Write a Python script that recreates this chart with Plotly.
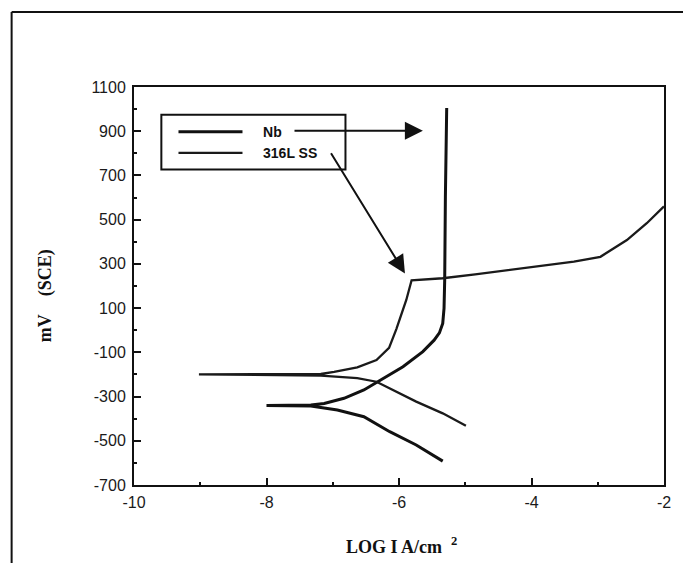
import plotly.graph_objects as go

# ---- data (LOG I in A/cm^2, potential in mV vs SCE) ----
nb_cath_x = [-8.00, -7.33, -6.93, -6.53, -6.14, -5.74, -5.34]
nb_cath_y = [-340, -343, -361, -391, -459, -519, -592]
nb_anod_x = [-8.00, -7.33, -7.13, -6.83, -6.53, -6.24, -5.94, -5.64, -5.47, -5.39, -5.34, -5.32, -5.31, -5.30, -5.28]
nb_anod_y = [-340, -338, -331, -308, -270, -218, -165, -97, -45, -12, 31, 100, 230, 600, 1005]

ss_cath_x = [-9.02, -7.18, -6.63, -6.34, -6.09, -5.74, -5.34, -4.99]
ss_cath_y = [-200, -205, -217, -233, -270, -323, -376, -432]
ss_anod_x = [-9.02, -7.18, -6.98, -6.63, -6.34, -6.15, -6.04, -5.89, -5.81, -5.34, -4.85, -4.10, -3.36, -2.96, -2.56, -2.26, -2.00]
ss_anod_y = [-200, -198, -188, -168, -135, -80, 5, 137, 226, 235, 253, 280, 310, 332, 408, 484, 560]

series_names = ["Nb", "316L SS"]
x_tickvals = [-10, -8, -6, -4, -2]
x_ticktext = ["-10", "-8", "-6", "-4", "-2"]
x_minor = [-9, -7, -5, -3]
y_tickvals = [1100, 900, 700, 500, 300, 100, -100, -300, -500, -700]
y_ticktext = [str(v) for v in y_tickvals]
y_minor = [1000, 800, 600, 400, 200, 0, -200, -400, -600]

# arrows (tail -> head) in data units
arrow_nb = dict(tail=(-7.60, 902), head=(-5.64, 902))
arrow_ss = dict(tail=(-7.04, 807), head=(-5.91, 257))

NBSP = "\u00a0"


def branch(cx, cy, ax, ay):
    # cathodic branch (reversed) followed by anodic branch, meeting at E_corr
    return list(reversed(cx)) + ax[1:], list(reversed(cy)) + ay[1:]


nb_x, nb_y = branch(nb_cath_x, nb_cath_y, nb_anod_x, nb_anod_y)
ss_x, ss_y = branch(ss_cath_x, ss_cath_y, ss_anod_x, ss_anod_y)

fig = go.Figure()
fig.add_trace(go.Scatter(x=nb_x, y=nb_y, mode="lines", name=NBSP * 4 + series_names[0],
                         line=dict(color="#111111", width=3)))
fig.add_trace(go.Scatter(x=ss_x, y=ss_y, mode="lines", name=NBSP * 4 + series_names[1],
                         line=dict(color="#1a1a1a", width=2.3)))

tickfont = dict(family="Liberation Sans", size=16, color="#1a1a1a")
axis_common = dict(showgrid=False, zeroline=False, showline=True, linecolor="#111111",
                   linewidth=2, mirror=True, ticks="inside", ticklen=7, tickwidth=2,
                   tickcolor="#111111", tickfont=tickfont)

fig.update_layout(
    width=683, height=563,
    margin=dict(l=134, r=12, t=87, b=78),
    paper_bgcolor="white", plot_bgcolor="white",
    showlegend=True,
    legend=dict(x=0.0745, y=0.927, xanchor="left", yanchor="top",
                bgcolor="rgba(0,0,0,0)", borderwidth=0, itemwidth=64,
                font=dict(family="Liberation Sans", size=14, color="#111111", weight="bold"),
                tracegroupgap=0),
    xaxis=dict(range=[-10, -2], tickvals=x_tickvals, ticktext=x_ticktext, ticklabelstandoff=2,
               minor=dict(tickvals=x_minor, ticks="inside", ticklen=3, tickwidth=2, tickcolor="#111111"),
               **axis_common),
    yaxis=dict(range=[-700, 1100], tickvals=y_tickvals, ticktext=y_ticktext, ticklabelstandoff=3,
               minor=dict(tickvals=y_minor, ticks="inside", ticklen=3, tickwidth=2, tickcolor="#111111"),
               **axis_common),
)

# legend frame
fig.add_shape(type="rect", xref="paper", yref="paper",
              x0=0.0516, x1=0.399, y0=0.793, y1=0.930,
              line=dict(color="#111111", width=2), fillcolor="rgba(0,0,0,0)")
# outer page frame: only top and left edges
fig.add_shape(type="line", xref="paper", yref="paper",
              x0=-0.2309, x1=1.2, y0=1.1884, y1=1.1884,
              line=dict(color="#111111", width=2), layer="below")
fig.add_shape(type="line", xref="paper", yref="paper",
              x0=-0.2309, x1=-0.2309, y0=-0.3, y1=1.1884,
              line=dict(color="#111111", width=2), layer="below")

for arr in (arrow_nb, arrow_ss):
    fig.add_annotation(x=arr["head"][0], y=arr["head"][1], ax=arr["tail"][0], ay=arr["tail"][1],
                       xref="x", yref="y", axref="x", ayref="y", text="",
                       showarrow=True, arrowhead=2, arrowsize=1.8, arrowwidth=2,
                       arrowcolor="#111111", standoff=0)

titlefont = dict(family="Liberation Serif", size=18, color="#111111", weight="bold")
fig.add_annotation(text="LOG I A/cm" + NBSP * 2 + "<sup>2</sup>", xref="paper", yref="paper",
                   x=0.5047, y=-0.1508, xanchor="center", yanchor="middle",
                   showarrow=False, font=titlefont)
fig.add_annotation(text="mV" + NBSP * 4 + "(SCE)", xref="paper", yref="paper",
                   x=-0.1657, y=0.4749, xanchor="center", yanchor="middle", textangle=-90,
                   showarrow=False, font=dict(family="Liberation Serif", size=18, color="#111111", weight="bold"))

fig.write_html("out.html")
